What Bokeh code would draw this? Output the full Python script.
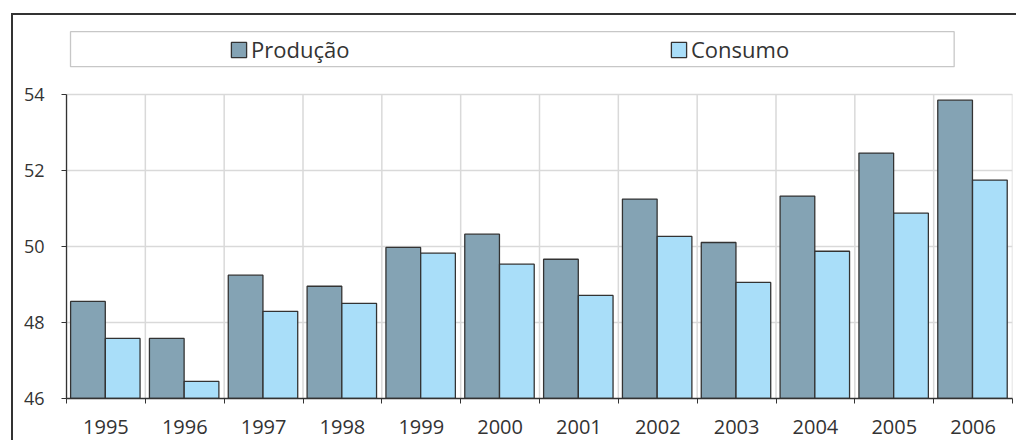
from bokeh.plotting import figure
from bokeh.models import (ColumnDataSource, FixedTicker, BoxAnnotation, Legend,
                          LegendItem, Range1d)
from bokeh.embed import file_html
from bokeh.resources import INLINE

years = ["1995", "1996", "1997", "1998", "1999", "2000",
         "2001", "2002", "2003", "2004", "2005", "2006"]
producao = [48.55, 47.58, 49.24, 48.95, 49.97, 50.32,
            49.66, 51.24, 50.10, 51.32, 52.45, 53.84]
consumo = [47.58, 46.45, 48.29, 48.50, 49.82, 49.53,
           48.71, 50.26, 49.05, 49.87, 50.87, 51.74]
series_names = ["Produção", "Consumo"]
y_ticks = [46, 48, 50, 52, 54]

FONT = "Open Sans"
TXT = "#333333"
P_COLOR = "#84a3b4"
C_COLOR = "#a9def9"

n = len(years)
idx = list(range(n))
src = ColumnDataSource(dict(
    xp=[i + 0.272 for i in idx],
    xc=[i + 0.713 for i in idx],
    p=producao,
    c=consumo,
))

# layout geometry (pixels)
W, H = 1005, 427
frame_left, frame_right_gap, frame_bottom_gap = 53.5, 6.5, 44.5
px_per_unit = 38.0
top_gap = 78.5                      # pixels between frame top and the 54 line
y_end = y_ticks[-1] + top_gap / px_per_unit

p = figure(width=W, height=H,
           x_range=Range1d(0, n), y_range=Range1d(y_ticks[0], y_end),
           output_backend="svg", toolbar_location=None,
           min_border_left=int(frame_left), min_border_right=int(frame_right_gap),
           min_border_top=0, min_border_bottom=int(frame_bottom_gap))
p.margin = (13, 0, 0, 11)
p.styles = {"border-top": "2.5px solid #333333",
            "border-left": "2.5px solid #333333"}
p.outline_line_color = None
p.background_fill_color = "white"
p.border_fill_color = "white"

# vertical grid lines at category boundaries (only within the value area)
bounds_x = list(range(n + 1))
p.segment(x0=bounds_x, x1=bounds_x, y0=[y_ticks[0]] * (n + 1),
          y1=[y_ticks[-1]] * (n + 1), line_color="#d9d9d9", line_width=1.5)

r1 = p.vbar(x="xp", top="p", bottom=y_ticks[0], width=0.44, source=src,
            fill_color=P_COLOR, line_color="#333333", line_width=1.3)
r2 = p.vbar(x="xc", top="c", bottom=y_ticks[0], width=0.44, source=src,
            fill_color=C_COLOR, line_color="#333333", line_width=1.3)

p.xgrid.visible = False
p.ygrid.ticker = FixedTicker(ticks=y_ticks)
p.ygrid.grid_line_color = "#d9d9d9"
p.ygrid.grid_line_width = 1.5

# x axis: labels at centres, ticks at boundaries
xa = p.xaxis[0]
xa.ticker = FixedTicker(ticks=[i + 0.5 for i in idx], minor_ticks=bounds_x)
xa.major_label_overrides = {i + 0.5: years[i] for i in idx}
xa.major_tick_out = 0
xa.major_tick_in = 0
xa.minor_tick_out = 5
xa.minor_tick_in = 0
xa.minor_tick_line_color = "#333333"
xa.axis_line_color = "#333333"
xa.axis_line_width = 1.3
xa.major_label_standoff = 16
xa.major_label_text_font = FONT
xa.major_label_text_font_size = "20px"
xa.major_label_text_color = TXT

ya = p.yaxis[0]
ya.ticker = FixedTicker(ticks=y_ticks)
ya.bounds = (y_ticks[0], y_ticks[-1])
ya.major_tick_out = 5
ya.major_tick_in = 0
ya.minor_tick_out = 0
ya.minor_tick_in = 0
ya.major_tick_line_color = "#333333"
ya.axis_line_color = "#333333"
ya.axis_line_width = 1.3
ya.major_label_standoff = 17
ya.major_label_text_font = FONT
ya.major_label_text_font_size = "18px"
ya.major_label_text_color = TXT

# legend box
lbox = BoxAnnotation(left=0.051, right=11.26, top=55.64, bottom=54.72,
                     fill_alpha=0, line_color="#444444", line_width=1.3)
p.add_layout(lbox)

legend = Legend(items=[LegendItem(label=series_names[0], renderers=[r1]),
                       LegendItem(label=series_names[1], renderers=[r2])],
                orientation="horizontal", location=(163, 334),
                glyph_width=19, glyph_height=19, label_standoff=3,
                label_width=100, spacing=318, padding=0, margin=0,
                border_line_color=None, background_fill_alpha=0,
                label_text_font=FONT, label_text_font_size="22px",
                label_text_color=TXT)
p.add_layout(legend)

open("out.html", "w").write(file_html(p, INLINE))
